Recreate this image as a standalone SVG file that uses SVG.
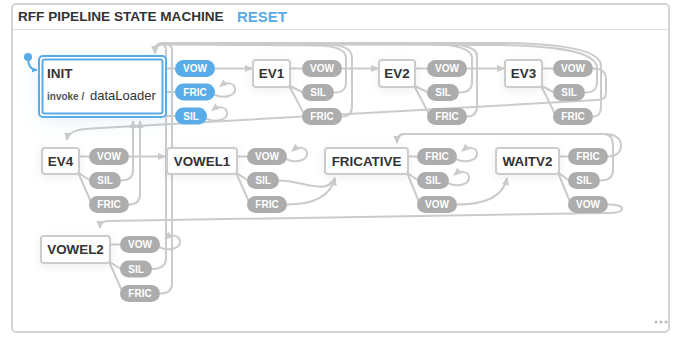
<svg xmlns="http://www.w3.org/2000/svg" width="681" height="337" viewBox="0 0 681 337">
<defs>
<style>
text{font-family:"Liberation Sans",Arial,Helvetica,sans-serif}
.title{font-size:13.6px;font-weight:bold;fill:#333}
.reset{font-size:15px;font-weight:bold;fill:#5aabe5}
.box{fill:#fff;stroke:#ccc;stroke-width:2}
.name{font-size:13.4px;font-weight:bold;fill:#333;text-anchor:middle}
.pill{fill:#adadad}
.pill.on{fill:#5aace8}
.ev{font-size:10px;font-weight:bold;fill:#fff;text-anchor:middle}
.e{fill:none;stroke:#cbcbcb;stroke-width:2}
.a{marker-end:url(#arrow)}
.init{fill:none;stroke:#5aace8;stroke-width:2}
</style>
<marker id="arrow" viewBox="0 0 10 10" refX="9" refY="5" markerWidth="8" markerHeight="8" markerUnits="userSpaceOnUse" orient="auto"><path d="M0,0.5 L10,5 L0,9.5 z" fill="#cbcbcb"/></marker>
<marker id="arrowBlue" viewBox="0 0 10 10" refX="9" refY="5" markerWidth="6" markerHeight="6" markerUnits="userSpaceOnUse" orient="auto"><path d="M0,0.5 L10,5 L0,9.5 z" fill="#5aace8"/></marker>
<filter id="shadow" x="-40%" y="-60%" width="180%" height="220%"><feDropShadow dx="0" dy="2" stdDeviation="5" flood-color="#000" flood-opacity="0.07"/></filter>
<filter id="glow" x="-40%" y="-60%" width="180%" height="220%"><feDropShadow dx="0" dy="3" stdDeviation="9" flood-color="#5aace8" flood-opacity="0.18"/></filter>
</defs>

<!-- panel -->
<rect x="12" y="4" width="657" height="328" rx="4" fill="#fff" stroke="#d4d4d4" stroke-width="2"/>
<line x1="13" y1="29.5" x2="668" y2="29.5" stroke="#dedede" stroke-width="1"/>
<text class="title" x="18" y="21">RFF PIPELINE STATE MACHINE</text>
<text class="reset" x="237" y="22">RESET</text>
<g fill="#bbb"><circle cx="656" cy="322" r="1.5"/><circle cx="661" cy="322" r="1.5"/><circle cx="666" cy="322" r="1.5"/></g>

<g id="edges">
  <!-- initial transition -->
  <circle cx="28" cy="57" r="4" fill="#5aace8"/>
  <path d="M28,57 C28,65 31,70 37,70" fill="none" stroke="#5aace8" stroke-width="2" marker-end="url(#arrowBlue)"/>

  <!-- state to event links -->
  <path class="e" d="M166,68.5 H175 M166,92 H175 M166,116 H175"/>
  <path class="e" d="M290,68.5 H302 M289,85.5 L303,92.5 M289,85.5 L304,114"/>
  <path class="e" d="M415,68.5 H427 M414,85.5 L428,92.5 M414,85.5 L429,114"/>
  <path class="e" d="M542,68.5 H553 M541,85.5 L554,92.5 M541,85.5 L555,114"/>
  <path class="e" d="M79,156.5 H89 M78,172.5 L90,180.5 M78,172.5 L91,202"/>
  <path class="e" d="M237,156.5 H247 M236,172.5 L248,180.5 M236,172.5 L249,202"/>
  <path class="e" d="M408,156.5 H417 M407,172.5 L418,180.5 M407,172.5 L419,202"/>
  <path class="e" d="M559,156.5 H568 M558,172.5 L569,180.5 M558,172.5 L570,202"/>
  <path class="e" d="M110,244.5 H120 M109,261.5 L121,269 M109,261.5 L122,291"/>

  <!-- forward transitions -->
  <path class="e a" d="M215,68.5 H252"/>
  <path class="e a" d="M342,68.5 H378"/>
  <path class="e a" d="M467,68.5 H504"/>
  <path class="e a" d="M593,68.5 C602,68.5 606,72 606,79 V93 C606,98 603,100 597,100 L100,128 C80,129 68,130 67,140"/>
  <path class="e a" d="M129,156.5 H165"/>
  <path class="e a" d="M279,180.5 C303,180.5 327,196 335,178"/>
  <path class="e a" d="M287,204.5 C312,204.5 330,198 335,178"/>
  <path class="e a" d="M457,204.5 C482,204.5 503,198 507,178"/>
  <path class="e a" d="M608,156.5 C616,156.5 621,152 621,146 C621,137 614,134 604,134 L404,134 C399,134 397,137 397,143"/>
  <path class="e a" d="M600,180.5 C609,180.5 613,177 613,170 V146 C613,138 610,134 604,134 L404,134 C399,134 397,137 397,143"/>
  <path class="e a" d="M608,204.5 C617,204.5 622,206 622,209 C622,212 616,213 606,213 L108,221 C103,221 100,223 100,228"/>

  <!-- back to INIT (top) -->
  <path class="e a" d="M334,92.5 C343,92.5 346,89 346,82 V58 C346,49 335,46 318,45.5 L162,44.5 Q155,44.5 155,53"/>
  <path class="e a" d="M342,116.5 C349,116.5 352,113 352,106 V58 C352,47 340,44 318,44 L162,44 Q155,44 155,53"/>
  <path class="e a" d="M459,92.5 C468,92.5 472,89 472,82 V58 C472,48 455,44.5 430,44 L162,44 Q155,44 155,53"/>
  <path class="e a" d="M467,116.5 C474,116.5 477,113 477,106 V56 C477,46 458,43 430,43 L162,43.5 Q155,43.5 155,53"/>
  <path class="e a" d="M585,92.5 C594,92.5 597,89 597,82 V68 C597,52 560,46 500,45 L162,44 Q155,44 155,53"/>
  <path class="e a" d="M593,116.5 C599,116.5 601,113 601,106 V66 C601,50 560,43.5 500,43 L162,43 Q155,43 155,53"/>
  <path class="e a" d="M152,269 C161,269 166,265 166,258 V50 C166,46 164,44 160,44 Q155,44 155,53"/>
  <path class="e a" d="M160,293.5 C168,293.5 172,290 172,283 V50 C172,45 169,43.5 162,43.5 Q155,43.5 155,53"/>

  <!-- back to INIT (bottom) -->
  <path class="e a" d="M121,180.5 C129,180.5 133,177 133,170 V121"/>
  <path class="e a" d="M129,204.5 C136,204.5 140,201 140,194 V121"/>

  <!-- self transitions -->
  <path class="e a" transform="translate(215,92)" d="M-1,2.5 C9,7.5 21,3.5 20,-3.5 C19,-9.5 11,-10.5 5,-5.5"/>
  <path class="e a" transform="translate(207,116)" d="M-1,2.5 C9,7.5 21,3.5 20,-3.5 C19,-9.5 11,-10.5 5,-5.5"/>
  <path class="e a" transform="translate(287,156.5)" d="M-1,2.5 C9,7.5 21,3.5 20,-3.5 C19,-9.5 11,-10.5 5,-5.5"/>
  <path class="e a" transform="translate(457,156.5)" d="M-1,2.5 C9,7.5 21,3.5 20,-3.5 C19,-9.5 11,-10.5 5,-5.5"/>
  <path class="e a" transform="translate(449,180.5)" d="M-1,2.5 C9,7.5 21,3.5 20,-3.5 C19,-9.5 11,-10.5 5,-5.5"/>
  <path class="e a" transform="translate(160,244.5)" d="M-1,2.5 C9,7.5 21,3.5 20,-3.5 C19,-9.5 11,-10.5 5,-5.5"/>
</g>

<g id="INIT">
  <rect x="39" y="56" width="127" height="61" rx="4" fill="#fff" filter="url(#glow)"/>
  <rect class="init" x="39" y="56" width="127" height="61" rx="4"/>
  <rect class="init" x="42.5" y="59.5" width="120" height="54" rx="2"/>
  <text x="47" y="78" style="font-size:13.5px;font-weight:bold;fill:#333">INIT</text>
  <text x="47" y="100" style="font-size:10px;font-weight:bold;fill:#555">invoke /</text>
  <text x="90" y="100" style="font-size:13px;fill:#333">dataLoader</text>
  <rect class="pill on" x="175" y="60" width="40" height="17" rx="8.5"/><text class="ev" x="195" y="72.1">VOW</text>
  <rect class="pill on" x="175" y="83.5" width="40" height="17" rx="8.5"/><text class="ev" x="195" y="95.6">FRIC</text>
  <rect class="pill on" x="175" y="107.5" width="32" height="17" rx="8.5"/><text class="ev" x="191" y="119.6">SIL</text>
</g>

<g id="EV1">
  <rect class="box" x="253" y="60" width="37" height="27" rx="3" filter="url(#shadow)"/>
  <text class="name" x="271.5" y="78.3">EV1</text>
  <rect class="pill" x="302" y="60" width="40" height="17" rx="8.5"/><text class="ev" x="322" y="72.1">VOW</text>
  <rect class="pill" x="302" y="84" width="32" height="17" rx="8.5"/><text class="ev" x="318" y="96.1">SIL</text>
  <rect class="pill" x="302" y="108" width="40" height="17" rx="8.5"/><text class="ev" x="322" y="120.1">FRIC</text>
</g>

<g id="EV2">
  <rect class="box" x="379" y="60" width="36" height="27" rx="3" filter="url(#shadow)"/>
  <text class="name" x="397" y="78.3">EV2</text>
  <rect class="pill" x="427" y="60" width="40" height="17" rx="8.5"/><text class="ev" x="447" y="72.1">VOW</text>
  <rect class="pill" x="427" y="84" width="32" height="17" rx="8.5"/><text class="ev" x="443" y="96.1">SIL</text>
  <rect class="pill" x="427" y="108" width="40" height="17" rx="8.5"/><text class="ev" x="447" y="120.1">FRIC</text>
</g>

<g id="EV3">
  <rect class="box" x="505" y="60" width="37" height="27" rx="3" filter="url(#shadow)"/>
  <text class="name" x="523.5" y="78.3">EV3</text>
  <rect class="pill" x="553" y="60" width="40" height="17" rx="8.5"/><text class="ev" x="573" y="72.1">VOW</text>
  <rect class="pill" x="553" y="84" width="32" height="17" rx="8.5"/><text class="ev" x="569" y="96.1">SIL</text>
  <rect class="pill" x="553" y="108" width="40" height="17" rx="8.5"/><text class="ev" x="573" y="120.1">FRIC</text>
</g>

<g id="EV4">
  <rect class="box" x="42" y="148" width="37" height="26" rx="3" filter="url(#shadow)"/>
  <text class="name" x="60.5" y="165.7">EV4</text>
  <rect class="pill" x="89" y="148" width="40" height="17" rx="8.5"/><text class="ev" x="109" y="160.1">VOW</text>
  <rect class="pill" x="89" y="172" width="32" height="17" rx="8.5"/><text class="ev" x="105" y="184.1">SIL</text>
  <rect class="pill" x="89" y="196" width="40" height="17" rx="8.5"/><text class="ev" x="109" y="208.1">FRIC</text>
</g>

<g id="VOWEL1">
  <rect class="box" x="167" y="148" width="70" height="26" rx="3" filter="url(#shadow)"/>
  <text class="name" x="202" y="165.7">VOWEL1</text>
  <rect class="pill" x="247" y="148" width="40" height="17" rx="8.5"/><text class="ev" x="267" y="160.1">VOW</text>
  <rect class="pill" x="247" y="172" width="32" height="17" rx="8.5"/><text class="ev" x="263" y="184.1">SIL</text>
  <rect class="pill" x="247" y="196" width="40" height="17" rx="8.5"/><text class="ev" x="267" y="208.1">FRIC</text>
</g>

<g id="FRICATIVE">
  <rect class="box" x="325" y="148" width="83" height="26" rx="3" filter="url(#shadow)"/>
  <text class="name" x="366.5" y="165.7">FRICATIVE</text>
  <rect class="pill" x="417" y="148" width="40" height="17" rx="8.5"/><text class="ev" x="437" y="160.1">FRIC</text>
  <rect class="pill" x="417" y="172" width="32" height="17" rx="8.5"/><text class="ev" x="433" y="184.1">SIL</text>
  <rect class="pill" x="417" y="196" width="40" height="17" rx="8.5"/><text class="ev" x="437" y="208.1">VOW</text>
</g>

<g id="WAITV2">
  <rect class="box" x="496" y="148" width="63" height="26" rx="3" filter="url(#shadow)"/>
  <text class="name" x="527.5" y="165.7">WAITV2</text>
  <rect class="pill" x="568" y="148" width="40" height="17" rx="8.5"/><text class="ev" x="588" y="160.1">FRIC</text>
  <rect class="pill" x="568" y="172" width="32" height="17" rx="8.5"/><text class="ev" x="584" y="184.1">SIL</text>
  <rect class="pill" x="568" y="196" width="40" height="17" rx="8.5"/><text class="ev" x="588" y="208.1">VOW</text>
</g>

<g id="VOWEL2">
  <rect class="box" x="41" y="236" width="69" height="27" rx="3" filter="url(#shadow)"/>
  <text class="name" x="75.5" y="254.3">VOWEL2</text>
  <rect class="pill" x="120" y="236" width="40" height="17" rx="8.5"/><text class="ev" x="140" y="248.1">VOW</text>
  <rect class="pill" x="120" y="260.5" width="32" height="17" rx="8.5"/><text class="ev" x="136" y="272.6">SIL</text>
  <rect class="pill" x="120" y="285" width="40" height="17" rx="8.5"/><text class="ev" x="140" y="297.1">FRIC</text>
</g>
</svg>
